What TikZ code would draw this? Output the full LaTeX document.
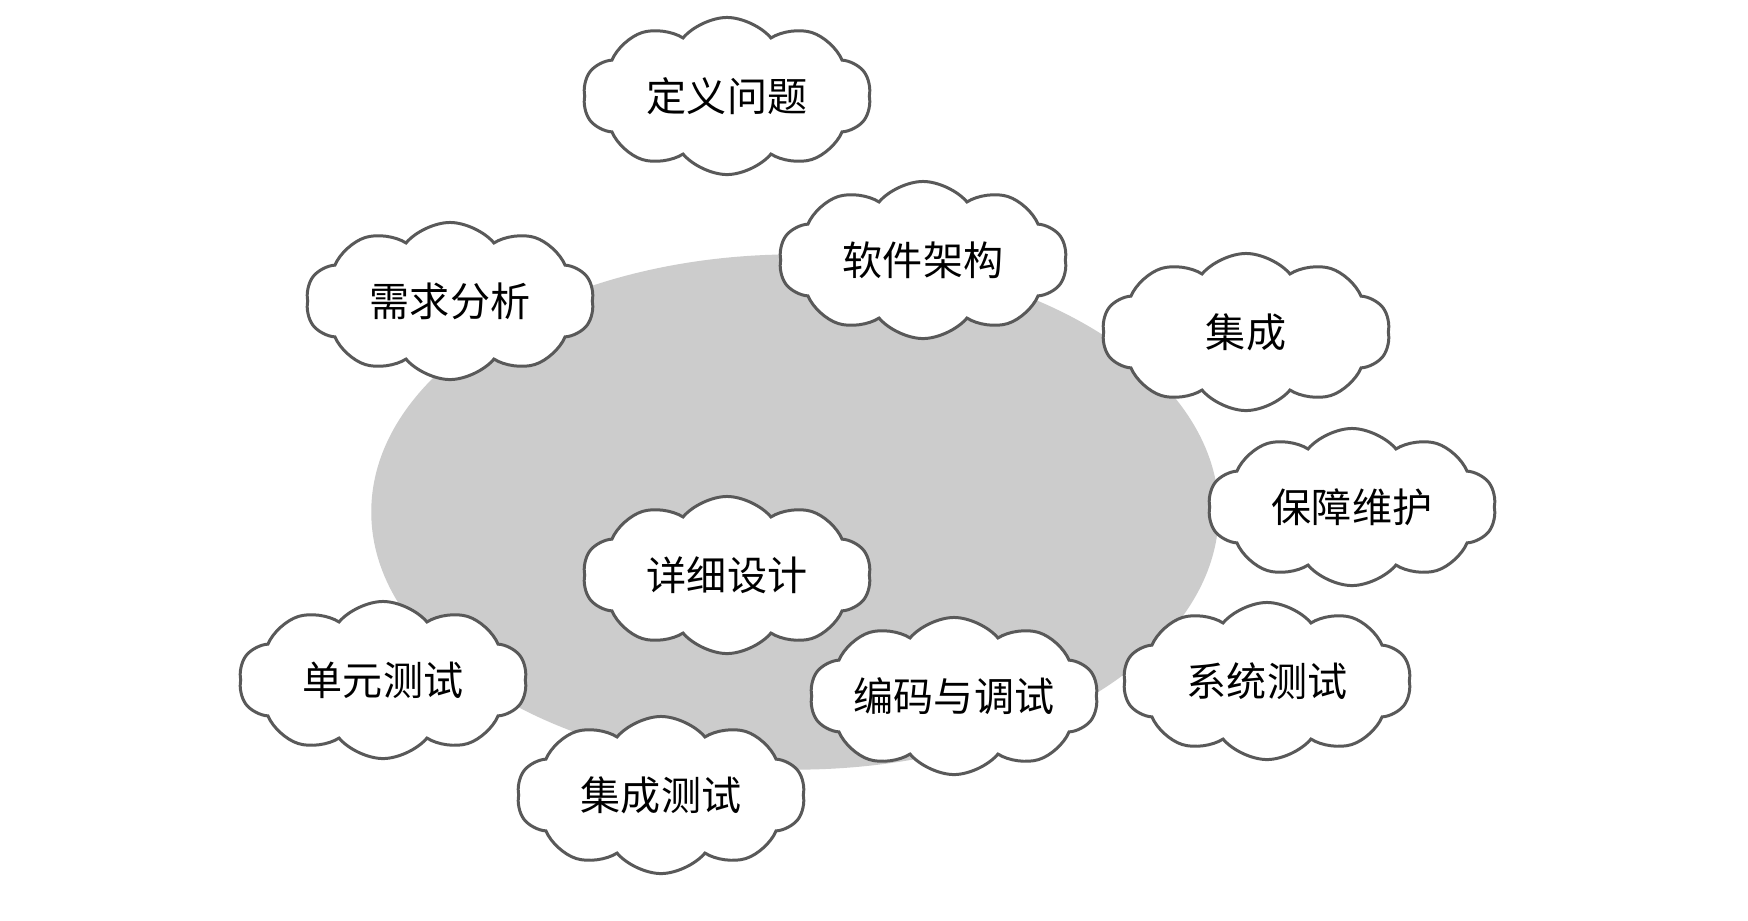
\documentclass[tikz,border=0pt]{standalone}
\usepackage{fontspec}
\newfontfamily\cjk{Noto Sans CJK SC}
\usetikzlibrary{shapes.symbols,shapes.geometric}
\begin{document}
\begin{tikzpicture}[x=0.01cm,y=-0.01cm,
  puff/.style={cloud, cloud puffs=10, cloud puff arc=100, cloud ignores aspect,
    minimum width=2.88cm, minimum height=1.57cm, inner sep=0pt,
    draw=black!65, line width=0.85pt, fill=white,
    font=\cjk\fontsize{11.4pt}{13pt}\selectfont, text=black}]
\useasboundingbox (0,0) rectangle (1748,920);
\fill[white] (0,0) rectangle (1748,920);
\node[ellipse, fill=black!20, minimum width=8.47cm, minimum height=5.15cm, inner sep=0pt] (core) at (795,512) {};
\node[puff] (dy) at (727,96) {定义问题};
\node[puff] (rj) at (923,260) {软件架构};
\node[puff] (xq) at (450,301) {需求分析};
\node[puff] (jc) at (1246,332) {集成};
\node[puff] (bz) at (1352,507) {保障维护};
\node[puff] (xx) at (727,575) {详细设计};
\node[puff] (dc) at (383,680) {单元测试};
\node[puff] (bm) at (954,696) {编码与调试};
\node[puff] (xt) at (1267,681) {系统测试};
\node[puff] (jt) at (661,795) {集成测试};
\end{tikzpicture}
\end{document}
